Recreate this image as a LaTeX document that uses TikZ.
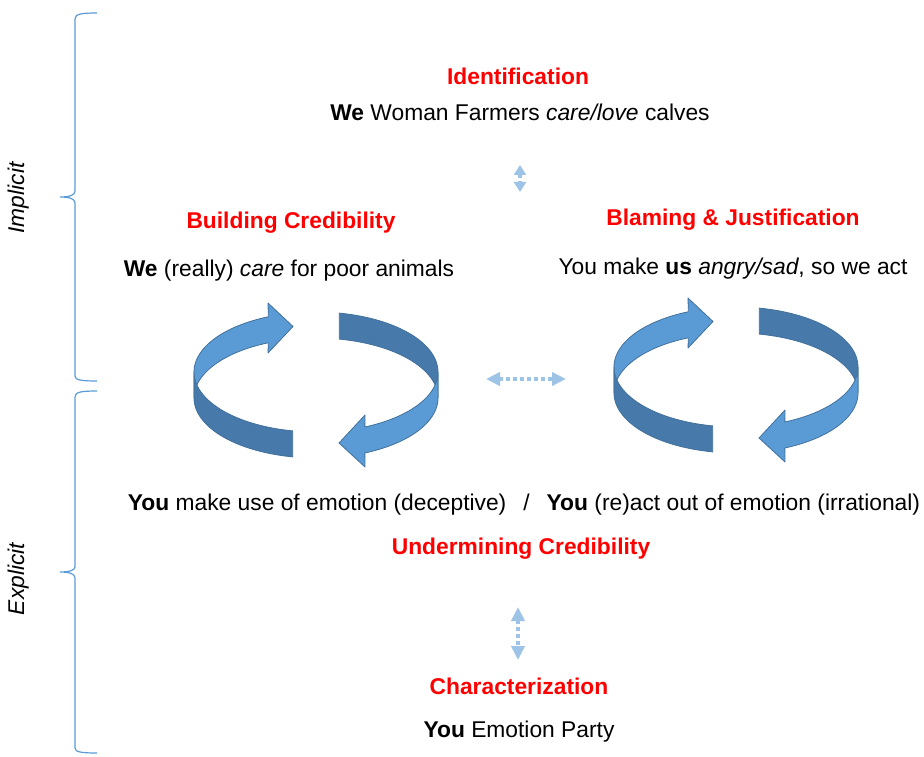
\documentclass[tikz,border=0pt]{standalone}
\usepackage{fontspec}
\setmainfont{Liberation Sans}
\usetikzlibrary{arrows.meta}

\definecolor{ringlight}{RGB}{91,155,213}
\definecolor{ringdark}{RGB}{71,121,170}
\definecolor{ringedge}{RGB}{65,113,156}
\definecolor{linkblue}{RGB}{157,195,230}
\definecolor{bracecol}{RGB}{91,155,213}

\tikzset{
  every node/.style={inner sep=0pt, anchor=base, font=\fontsize{22.8}{27}\selectfont},
  heading/.style={text=red, font=\fontsize{22.8}{27}\selectfont\bfseries},
  bodytext/.style={text=black},
  sidelabel/.style={rotate=90, font=\fontsize{22.8}{27}\selectfont\itshape},
  bracepath/.style={draw=bracecol, line width=1.2pt},
  lightband/.style={fill=ringlight, draw=ringedge, line width=0.8pt, line join=round},
  darkband/.style={fill=ringdark, draw=ringedge, line width=0.8pt, line join=round},
  linkarrow/.style={draw=linkblue, line width=4pt, dash pattern=on 4pt off 3pt,
    {Triangle[width=13pt,length=14pt]}-{Triangle[width=13pt,length=14pt]}},
  shortlink/.style={draw=linkblue, line width=4pt, dash pattern=on 4pt off 3pt,
    {Triangle[width=12pt,length=10pt]}-{Triangle[width=12pt,length=10pt]}},
  % a pair of 3D circular arrows forming a loop
  loopring/.pic={
    % back half of the ring: head of the left arrow
    \filldraw[lightband] (-47.67,-55.23) -- (-48,-69) -- (-23,-45.5) -- (-48,-19) -- (-47.67,-29.23)
      -- plot[domain=113:180,samples=30] ({122*cos(\x)},{26-60*sin(\x)})
      -- plot[domain=180:113,samples=30] ({122*cos(\x)},{-60*sin(\x)}) -- cycle;
    % back half of the ring: tail of the right arrow
    \filldraw[darkband] plot[domain=79:0,samples=30] ({122*cos(\x)},{-60*sin(\x)})
      -- plot[domain=0:79,samples=30] ({122*cos(\x)},{26-60*sin(\x)}) -- cycle;
    % front half of the ring: tail of the left arrow
    \filldraw[darkband] plot[domain=180:259,samples=30] ({122*cos(\x)},{-60*sin(\x)})
      -- plot[domain=259:180,samples=30] ({122*cos(\x)},{26-60*sin(\x)}) -- cycle;
    % front half of the ring: head of the right arrow
    \filldraw[lightband] plot[domain=0:-66.4,samples=30] ({122*cos(\x)},{-60*sin(\x)})
      -- (49,43) -- (23,71) -- (49,95)
      -- plot[domain=-66.4:0,samples=30] ({122*cos(\x)},{26-60*sin(\x)}) -- cycle;
  }
}

\begin{document}
\begin{tikzpicture}[x=1pt, y=-1pt]
\useasboundingbox (0,0) rectangle (924,757);

% side braces
\draw[bracepath] (97,13) .. controls (81,13) and (75,14) .. (75,19) -- (75,191)
  .. controls (75,195) and (70,197) .. (60,197)
  .. controls (70,197) and (75,199) .. (75,203) -- (75,376)
  .. controls (75,380) and (81,381) .. (97,381);
\draw[bracepath] (97,391) .. controls (81,391) and (75,392) .. (75,397) -- (75,567)
  .. controls (75,570) and (70,572) .. (60,572)
  .. controls (70,572) and (75,574) .. (75,578) -- (75,748)
  .. controls (75,752) and (81,753) .. (97,753);
\node[sidelabel] (impl) at (24,198) {Implicit};
\node[sidelabel] (expl) at (24,579) {Explicit};

% texts
\node[heading] (ident) at (518,85) {Identification};
\node[bodytext] (identtxt) at (520,121) {\textbf{We} Woman Farmers \textit{care/love} calves};
\node[heading] (build) at (291,228) {Building Credibility};
\node[bodytext] (buildtxt) at (289,276) {\textbf{We} (really) \textit{care} for poor animals};
\node[heading] (blame) at (733,225) {Blaming \& Justification};
\node[bodytext] (blametxt) at (733,274) {You make \textbf{us} \textit{angry/sad}, so we act};
\node[bodytext] (youline) at (524,510) {\textbf{You} make use of emotion (deceptive)\hspace{17pt}/\hspace{17pt}\textbf{You} (re)act out of emotion (irrational)};
\node[heading] (under) at (521,554) {Undermining Credibility};
\node[heading] (charac) at (519,694) {Characterization};
\node[bodytext] (chartxt) at (519,737) {\textbf{You} Emotion Party};

% circular arrows
\pic (leftring) at (316,372) {loopring};
\pic (rightring) at (736,367) {loopring};

% dotted double arrows
\coordinate (vtopA) at (520,165);
\coordinate (vtopB) at (520,192);
\coordinate (hA) at (486,379);
\coordinate (hB) at (566,379);
\coordinate (vbotA) at (518,607);
\coordinate (vbotB) at (518,660);
\draw[shortlink] (vtopA) -- (vtopB);
\draw[linkarrow] (hA) -- (hB);
\draw[linkarrow] (vbotA) -- (vbotB);
\end{tikzpicture}
\end{document}
